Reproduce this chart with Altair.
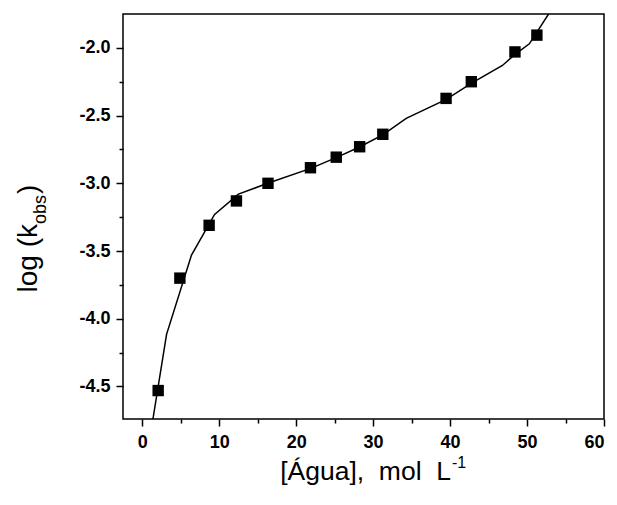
import altair as alt
import pandas as pd

# measured data points
water = [2.07, 4.89, 8.69, 12.24, 16.34, 21.86, 25.21, 28.25, 31.26, 39.48, 42.76, 48.43, 51.28]
logk = [-4.53, -3.70, -3.31, -3.13, -3.00, -2.885, -2.807, -2.73, -2.638, -2.373, -2.25, -2.03, -1.906]

# fitted curve
fit_x = [1.39, 3.16, 6.40, 9.40, 12.50, 16.30, 21.90, 25.20, 28.30, 31.30, 34.30,
         39.50, 42.80, 46.80, 48.40, 50.30, 52.80]
fit_y = [-4.74, -4.115, -3.53, -3.23, -3.08, -3.00, -2.89, -2.81, -2.73, -2.64, -2.52,
         -2.38, -2.26, -2.13, -2.05, -1.97, -1.75]

x_major = [0, 10, 20, 30, 40, 50, 60]
x_minor = [5, 15, 25, 35, 45, 55]
y_major = [-4.5, -4.0, -3.5, -3.0, -2.5, -2.0]
y_minor = [-4.25, -3.75, -3.25, -2.75, -2.25]

FONT = "Liberation Sans"
xs = alt.Scale(domain=[-2.5, 60], nice=False, zero=False)
ys = alt.Scale(domain=[-4.74, -1.75], nice=False, zero=False)

major_common = dict(domain=False, grid=False, title=None, tickColor="black", tickWidth=1.5,
                    tickSize=7, labelFont=FONT, labelFontWeight="bold", labelFontSize=18,
                    labelColor="black")
minor_common = dict(domain=False, grid=False, title=None, tickColor="black", tickWidth=1.5,
                    tickSize=4, labels=False)

fit_df = pd.DataFrame({"x": fit_x, "y": fit_y})
pts_df = pd.DataFrame({"x": water, "y": logk})

line = alt.Chart(fit_df).mark_line(color="black", strokeWidth=1.5, clip=True).encode(
    x=alt.X("x:Q", scale=xs, axis=alt.Axis(values=x_major, orient="bottom", labelPadding=7,
                                           labelExpr="format(datum.value, 'd')", **major_common)),
    y=alt.Y("y:Q", scale=ys, axis=alt.Axis(values=y_major, orient="left", labelPadding=6,
                                           labelExpr="(datum.value < 0 ? '-' : '') + format(abs(datum.value), '.1f')",
                                           **major_common)),
    order="x:Q",
)

points = alt.Chart(pts_df).mark_point(shape="square", filled=True, size=130, color="black", opacity=1).encode(
    x=alt.X("x:Q", scale=xs, axis=alt.Axis(values=x_minor, orient="bottom", **minor_common)),
    y=alt.Y("y:Q", scale=ys, axis=alt.Axis(values=y_minor, orient="left", **minor_common)),
)

blank = pd.DataFrame({"a": [0]})
NB = "\u00a0"

xtitle = alt.Chart(blank).mark_text(text="[Água]," + NB * 2 + "mol" + NB * 2 + "L", font=FONT, fontSize=26.5,
                                    align="right", baseline="alphabetic", color="black").encode(
    x=alt.value(328), y=alt.value(466))
xsup = alt.Chart(blank).mark_text(text="-1", font=FONT, fontSize=16, align="left",
                                  baseline="alphabetic", color="black").encode(
    x=alt.value(329), y=alt.value(454))

ytitle = alt.Chart(blank).mark_text(text="log (k", font=FONT, fontSize=28, align="right", angle=270,
                                    baseline="alphabetic", color="black").encode(
    x=alt.value(-86), y=alt.value(210))
ysub = alt.Chart(blank).mark_text(text="obs", font=FONT, fontSize=18, align="left", angle=270,
                                  baseline="alphabetic", color="black").encode(
    x=alt.value(-77), y=alt.value(210))
yclose = alt.Chart(blank).mark_text(text=")", font=FONT, fontSize=28, align="left", angle=270,
                                    baseline="alphabetic", color="black").encode(
    x=alt.value(-86), y=alt.value(180))

chart = alt.layer(line, points, xtitle, xsup, ytitle, ysub, yclose).resolve_axis(
    x="independent", y="independent"
).properties(
    width=481, height=405,
    autosize=alt.AutoSizeParams(type="none"),
    padding={"left": 115, "top": 6, "right": 5, "bottom": 76},
).configure_view(stroke="black", strokeWidth=1.5)

chart.save("out.html", embed_options={"renderer": "svg", "actions": False})
